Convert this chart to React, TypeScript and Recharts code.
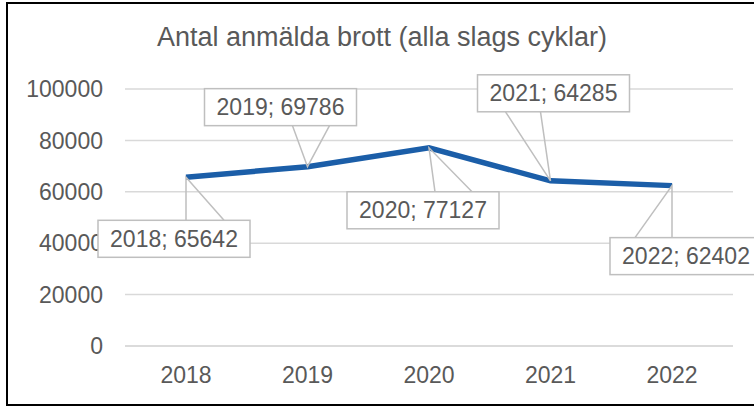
import { CartesianGrid, LabelList, Line, LineChart, XAxis, YAxis } from "recharts";

const years = ["2018", "2019", "2020", "2021", "2022"];
const reported = [65642, 69786, 77127, 64285, 62402];
const yTicks = [0, 20000, 40000, 60000, 80000, 100000];

const title = "Antal anmälda brott (alla slags cyklar)";

const data = years.map((year, i) => ({ year, value: reported[i] }));

// callout placement relative to each point: box offset + where the wedge meets the box
const callouts = [
  { dx: -88, dy: 43, a1: 0, a2: 38 },
  { dx: -103, dy: -78, a1: -15, a2: 22 },
  { dx: -82, dy: 44, a1: 6, a2: 43 },
  { dx: -73, dy: -106, a1: -45, a2: -10 },
  { dx: -62, dy: 52, a1: -37, a2: 0 },
];

const FONT = "'Liberation Sans', Arial, sans-serif";
const TEXT = "#595959";
const BOX_W = 152;
const BOX_H = 37;

type CalloutProps = {
  x?: number | string;
  y?: number | string;
  index?: number;
  value?: number | string;
};

function Callout({ x, y, index, value }: CalloutProps) {
  const i = index ?? 0;
  const c = callouts[i];
  if (!c) return null;
  const px = Number(x);
  const py = Number(y);
  const left = px + c.dx;
  const top = py + c.dy;
  const edgeY = c.dy > 0 ? top : top + BOX_H;
  return (
    <g>
      <polyline
        points={`${px + c.a1},${edgeY} ${px},${py} ${px + c.a2},${edgeY}`}
        fill="none"
        stroke="#bfbfbf"
        strokeWidth={1.5}
      />
      <rect x={left} y={top} width={BOX_W} height={BOX_H} fill="#fff" stroke="#bfbfbf" strokeWidth={1.5} />
      <text
        x={left + BOX_W / 2}
        y={top + BOX_H / 2}
        textAnchor="middle"
        dominantBaseline="central"
        fill={TEXT}
        fontSize={23}
        fontFamily={FONT}
      >
        {`${years[i]}; ${value}`}
      </text>
    </g>
  );
}

export default function App() {
  return (
    <div style={{ position: "absolute", left: 0, top: 0, width: 754, height: 406, overflow: "hidden", background: "#fff" }}>
      <div
        style={{
          position: "absolute",
          left: 6,
          top: 2,
          width: 760,
          height: 400,
          border: "2px solid #000",
        }}
      />
      <div
        style={{
          position: "absolute",
          left: 0,
          top: 22,
          width: 764,
          textAlign: "center",
          fontFamily: FONT,
          fontSize: 27,
          color: TEXT,
          lineHeight: "30px",
        }}
      >
        {title}
      </div>
      <LineChart
        width={754}
        height={406}
        data={data}
        margin={{ top: 89, right: 21, bottom: 0, left: 0 }}
        style={{ position: "absolute", left: 0, top: 0 }}
      >
        <CartesianGrid vertical={false} stroke="#d9d9d9" strokeWidth={1.5} />
        <XAxis
          dataKey="year"
          height={60}
          padding={{ left: 61, right: 61 }}
          axisLine={{ stroke: "#d9d9d9", strokeWidth: 1.5 }}
          tickLine={false}
          tickMargin={15}
          tick={{ fontSize: 23, fill: TEXT, fontFamily: FONT }}
        />
        <YAxis
          width={125}
          domain={[0, 100000]}
          ticks={yTicks}
          axisLine={false}
          tickLine={false}
          tickMargin={16}
          tick={{ fontSize: 23, fill: TEXT, fontFamily: FONT }}
        />
        <Line
          type="linear"
          dataKey="value"
          stroke="#1b5ea8"
          strokeWidth={5.5}
          dot={false}
          activeDot={false}
          isAnimationActive={false}
        >
          <LabelList dataKey="value" content={<Callout />} />
        </Line>
      </LineChart>
    </div>
  );
}
